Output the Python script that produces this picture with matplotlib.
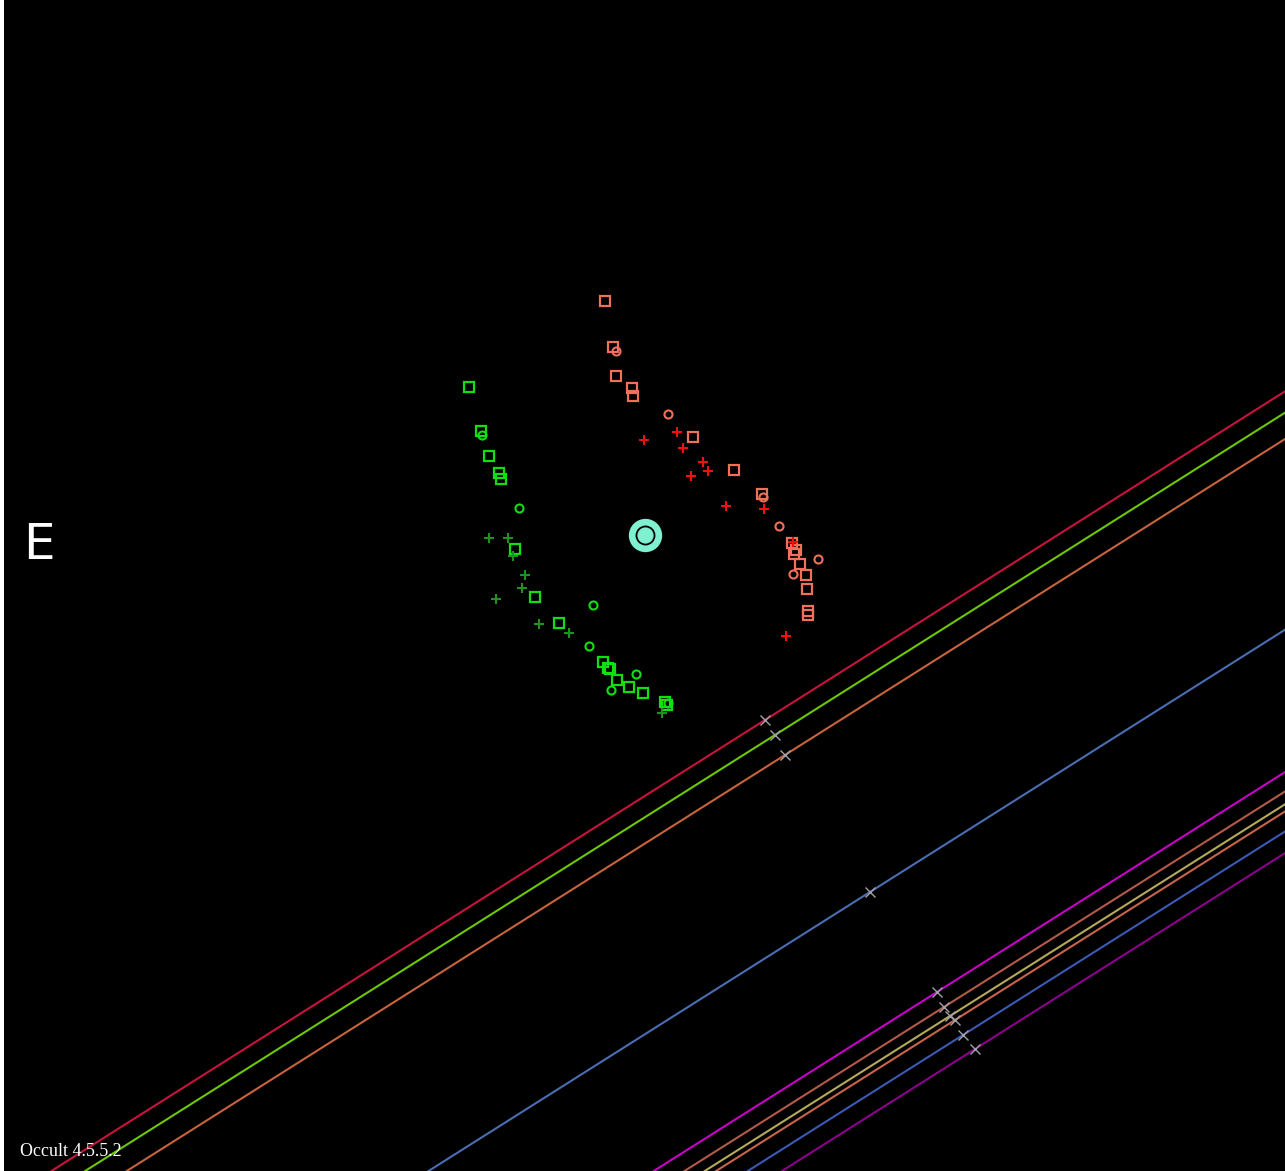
import numpy as np
import matplotlib.pyplot as plt

# positions on the plot (x right, y down), star at centre
star = (645, 535)

red_sq_x = [605, 613, 616, 632, 633, 693, 734, 762, 792, 796, 794, 800, 806, 807, 808, 808]
red_sq_y = [301, 347, 376, 388, 396, 437, 470, 494, 543, 550, 554, 564, 575, 589, 611, 615]
red_ci_x = [616, 668, 763, 779, 818, 793]
red_ci_y = [351, 414, 497, 526, 559, 574]
red_pl_x = [644, 677, 683, 703, 708, 691, 726, 764, 793, 786]
red_pl_y = [440, 432, 448, 462, 471, 476, 506, 509, 542, 636]

grn_sq_x = [469, 481, 489, 499, 501, 515, 535, 559, 603, 608, 610, 617, 629, 643, 665, 667]
grn_sq_y = [387, 431, 456, 473, 479, 549, 597, 623, 662, 668, 669, 680, 687, 693, 702, 705]
grn_ci_x = [482, 519, 593, 589, 636, 611, 668]
grn_ci_y = [435, 508, 605, 646, 674, 690, 703]
grn_pl_x = [489, 508, 513, 525, 522, 496, 539, 569, 662]
grn_pl_y = [538, 538, 556, 575, 588, 599, 624, 633, 713]

# path lines: crossing mark and colour
line_x = [765, 775, 785, 870, 937, 944, 950, 955, 963, 975]
line_y = [720, 735, 755, 892, 992, 1007, 1016, 1020, 1035, 1049]
line_colors = ['#c8143c', '#6cc800', '#c8643c', '#4a6eb4', '#c800c8',
               '#b45a4a', '#b4aa5a', '#c8644a', '#3c5ab4', '#8c008c']
slope = -0.632

fig = plt.figure(figsize=(12.85, 11.71), dpi=100, facecolor='white')
ax = fig.add_axes([4 / 1285, 0, 1281 / 1285, 1])
ax.set_facecolor('black')
ax.set_xlim(4, 1285)
ax.set_ylim(1171, 0)
ax.axis('off')
ax.add_patch(plt.Rectangle((0, 0), 1, 1, transform=ax.transAxes, color='black', zorder=0))

for x, y, c in zip(line_x, line_y, line_colors):
    ax.axline((x, y), slope=slope, color=c, lw=1.5, zorder=2)
ax.plot(line_x, line_y, 'x', color='#a0a0a8', ms=7, mew=1.0, zorder=3)

ax.plot(red_sq_x, red_sq_y, 's', ms=6.8, mfc='none', mec='#f0705a', mew=1.6)
ax.plot(red_ci_x, red_ci_y, 'o', ms=5.8, mfc='none', mec='#f0705a', mew=1.5)
ax.plot(red_pl_x, red_pl_y, '+', ms=7, color='#f01010', mew=1.5)

ax.plot(grn_sq_x, grn_sq_y, 's', ms=6.8, mfc='none', mec='#10e010', mew=1.6)
ax.plot(grn_ci_x, grn_ci_y, 'o', ms=5.8, mfc='none', mec='#10e010', mew=1.5)
ax.plot(grn_pl_x, grn_pl_y, '+', ms=7, color='#209020', mew=1.5)

ax.plot(*star, 'o', ms=24, mfc='#7ff0d0', mec='none', zorder=5)
ax.plot(*star, 'o', ms=13, mfc='#7ff0d0', mec='black', mew=1.3, zorder=6)

ax.text(39, 545, 'E', color='white', fontsize=36, ha='center', va='center')
ax.text(20, 1152, 'Occult 4.5.5.2', color='white', fontsize=13,
        family='Liberation Serif', ha='left', va='center')

fig.savefig('out.png', dpi=100, facecolor='white')
